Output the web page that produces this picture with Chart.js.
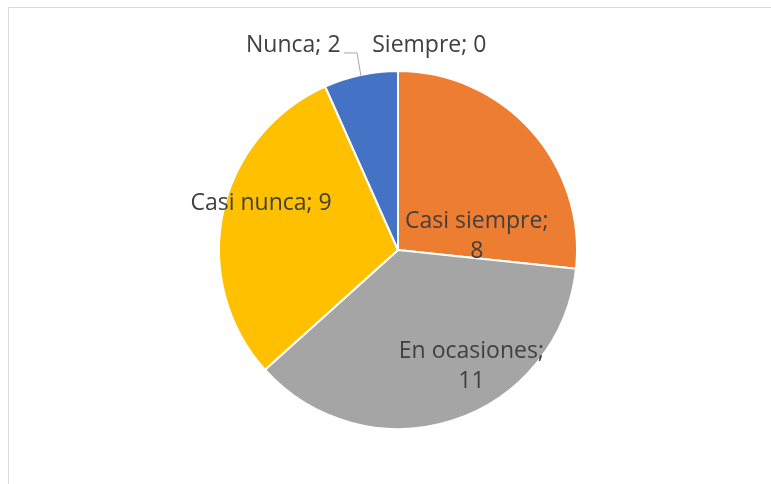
<!DOCTYPE html>
<html>
<head>
<meta charset="utf-8">
<style>
  html, body { margin: 0; padding: 0; background: #ffffff; }
  #wrap { position: relative; width: 771px; height: 484px; }
</style>
<script src="https://cdn.jsdelivr.net/npm/chart.js@4/dist/chart.umd.min.js"></script>
</head>
<body>
<div id="wrap"><canvas id="c" width="771" height="484"></canvas></div>
<script>
// ---- data ----
const categories = ["Siempre", "Casi siempre", "En ocasiones", "Casi nunca", "Nunca"];
const values = [0, 8, 11, 9, 2];
const colors = ["#4472C4", "#ED7D31", "#A5A5A5", "#FFC000", "#4472C4"];

// label placement, relative to pie centre, in units of radius (presentation only)
const labelPlacement = [
  { dx: 0.175, dy: -1.14, wrap: false },   // Siempre
  { dx: 0.44,  dy: -0.075, wrap: true },   // Casi siempre
  { dx: 0.41,  dy: 0.65,  wrap: true },    // En ocasiones
  { dx: -0.765, dy: -0.26, wrap: false },  // Casi nunca
  { dx: -0.585, dy: -1.14, wrap: false }   // Nunca
];

const frame = {
  id: 'frame',
  beforeDraw(chart) {
    const ctx = chart.ctx;
    ctx.save();
    ctx.strokeStyle = '#d9d9d9';
    ctx.lineWidth = 1;
    ctx.beginPath();
    ctx.moveTo(8.5, 500);
    ctx.lineTo(8.5, 7.5);
    ctx.lineTo(800, 7.5);
    ctx.stroke();
    ctx.restore();
  }
};

const labels = {
  id: 'pieLabels',
  afterDatasetsDraw(chart) {
    const ctx = chart.ctx;
    const meta = chart.getDatasetMeta(0);
    const arc0 = meta.data[0];
    const cx = arc0.x, cy = arc0.y, R = arc0.outerRadius;
    ctx.save();
    ctx.font = '23px "Open Sans", Lato, sans-serif';
    ctx.fillStyle = '#404040';
    ctx.textAlign = 'center';
    ctx.textBaseline = 'middle';
    const lh = 30;
    categories.forEach((name, i) => {
      const p = labelPlacement[i];
      const x = cx + p.dx * R, y = cy + p.dy * R;
      const lines = p.wrap ? [name + ';', String(values[i])] : [name + '; ' + values[i]];
      lines.forEach((t, k) => {
        ctx.fillText(t, x, y + (k - (lines.length - 1) / 2) * lh);
      });
    });
    // leader line for "Nunca" slice
    const nunca = meta.data[4];
    const mid = (nunca.startAngle + nunca.endAngle) / 2;
    const ex = cx + Math.cos(mid) * R * 0.995;
    const ey = cy + Math.sin(mid) * R * 0.995;
    const ly = cy + labelPlacement[4].dy * R + 7;
    ctx.strokeStyle = '#a6a6a6';
    ctx.lineWidth = 1;
    ctx.beginPath();
    ctx.moveTo(ex, ey);
    ctx.lineTo(ex - 4, ly);
    ctx.lineTo(ex - 17, ly);
    ctx.stroke();
    ctx.restore();
  }
};

new Chart(document.getElementById('c'), {
  type: 'pie',
  data: {
    labels: categories,
    datasets: [{
      data: values,
      backgroundColor: colors,
      borderColor: '#ffffff',
      borderWidth: 2
    }]
  },
  options: {
    responsive: false,
    animation: false,
    layout: { padding: { left: 218, right: 193, top: 70, bottom: 54 } },
    plugins: { legend: { display: false }, tooltip: { enabled: false } }
  },
  plugins: [frame, labels]
});
</script>
</body>
</html>
